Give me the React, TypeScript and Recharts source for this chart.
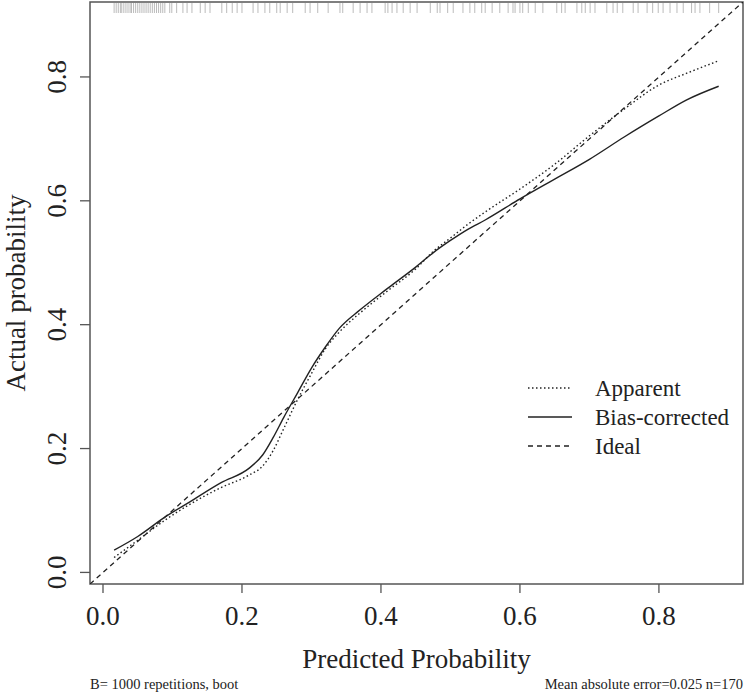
import {
  ComposedChart,
  Line,
  Scatter,
  XAxis,
  YAxis,
  ReferenceArea,
  Label,
} from "recharts";

// axis range (R's 4% padding around the predicted range 0.016..0.886)
const axisRange = [-0.0187, 0.921];
const axisTicks = [0, 0.2, 0.4, 0.6, 0.8];

// predicted probability grid for the calibration curves
const predicted = [
  0.016, 0.05, 0.09, 0.125, 0.17, 0.21, 0.23, 0.245, 0.26, 0.28, 0.3, 0.32, 0.34,
  0.37, 0.41, 0.45, 0.475, 0.5, 0.525, 0.55, 0.6, 0.65, 0.7, 0.75, 0.8, 0.84,
  0.886,
];
const apparent = [
  0.024, 0.052, 0.085, 0.11, 0.137, 0.157, 0.172, 0.197, 0.232, 0.279, 0.321,
  0.361, 0.388, 0.419, 0.455, 0.49, 0.518, 0.54, 0.562, 0.582, 0.619, 0.659,
  0.705, 0.748, 0.787, 0.806, 0.826,
];
const biasCorrected = [
  0.036, 0.058, 0.09, 0.114, 0.145, 0.168, 0.19, 0.218, 0.25, 0.29, 0.33, 0.364,
  0.394, 0.424, 0.459, 0.493, 0.516, 0.536, 0.554, 0.569, 0.603, 0.635, 0.667,
  0.703, 0.737, 0.763, 0.785,
];

// rug of predicted values along the top
const rugValues = [
  0.016, 0.019, 0.022, 0.025, 0.027, 0.03, 0.033, 0.036, 0.039, 0.041, 0.044,
  0.047, 0.05, 0.053, 0.056, 0.059, 0.062, 0.065, 0.068, 0.071, 0.074, 0.077,
  0.08, 0.083, 0.086, 0.089, 0.096, 0.099, 0.106, 0.115, 0.121, 0.128, 0.14,
  0.147, 0.154, 0.171, 0.178, 0.186, 0.193, 0.2, 0.216, 0.223, 0.233, 0.24,
  0.25, 0.255, 0.265, 0.273, 0.291, 0.298, 0.309, 0.324, 0.341, 0.345, 0.36,
  0.37, 0.38, 0.387, 0.406, 0.41, 0.416, 0.423, 0.432, 0.442, 0.452, 0.471,
  0.481, 0.485, 0.496, 0.504, 0.518, 0.528, 0.535, 0.545, 0.55, 0.56, 0.571,
  0.583, 0.59, 0.593, 0.6, 0.604, 0.612, 0.622, 0.633, 0.653, 0.66, 0.665,
  0.682, 0.689, 0.694, 0.701, 0.708, 0.725, 0.734, 0.74, 0.748, 0.763, 0.77,
  0.783, 0.791, 0.799, 0.806, 0.816, 0.826, 0.835, 0.847, 0.852, 0.859, 0.873,
  0.886,
];

const legendItems = [
  { label: "Apparent", dash: "1.5 2.5" },
  { label: "Bias-corrected", dash: undefined },
  { label: "Ideal", dash: "5 4" },
];

const serif = '"Liberation Serif", "Times New Roman", serif';
const ink = "#222";
const frame = "#555";

const apparentData = predicted.map((x, i) => ({ x, y: apparent[i] }));
const biasData = predicted.map((x, i) => ({ x, y: biasCorrected[i] }));
const idealData = axisRange.map((v) => ({ x: v, y: v }));
const rugData = rugValues.map((x) => ({ x, y: axisRange[1] }));

const RugTick = (props: any) => (
  <line
    x1={props.cx}
    x2={props.cx}
    y1={props.cy + 1}
    y2={props.cy + 11}
    stroke="#bbb"
    strokeWidth={1}
  />
);

const XTick = ({ x, y, payload }: any) => (
  <text x={x} y={y + 30} textAnchor="middle" fontFamily={serif} fontSize={27} fill={ink}>
    {payload.value.toFixed(1)}
  </text>
);

const YTick = ({ x, y, payload }: any) => (
  <text
    x={x - 12}
    y={y}
    transform={`rotate(-90 ${x - 12} ${y})`}
    textAnchor="middle"
    fontFamily={serif}
    fontSize={27}
    fill={ink}
  >
    {payload.value.toFixed(1)}
  </text>
);

function CurveLegend() {
  return (
    <svg width={226} height={92} style={{ position: "absolute", left: 520, top: 370 }}>
      {legendItems.map((item, i) => (
        <g key={item.label}>
          <line
            x1={8}
            x2={52}
            y1={18 + i * 29}
            y2={18 + i * 29}
            stroke={ink}
            strokeWidth={1.3}
            strokeDasharray={item.dash}
          />
          <text x={75} y={26 + i * 29} fontFamily={serif} fontSize={23} fill={ink}>
            {item.label}
          </text>
        </g>
      ))}
    </svg>
  );
}

export default function App() {
  return (
    <div style={{ position: "absolute", left: 0, top: 0, width: 746, height: 695, background: "#fff" }}>
      <ComposedChart width={746} height={695} margin={{ top: 2, right: 3, left: 0, bottom: 0 }}>
        <XAxis
          type="number"
          dataKey="x"
          domain={axisRange}
          ticks={axisTicks}
          allowDataOverflow
          axisLine={false}
          tickSize={9}
          tickLine={{ stroke: frame, strokeWidth: 1.3 }}
          tick={<XTick />}
          height={111}
        >
          <Label
            content={() => (
              <text x={416.5} y={668} textAnchor="middle" fontFamily={serif} fontSize={27} fill={ink}>
                Predicted Probability
              </text>
            )}
          />
        </XAxis>
        <YAxis
          type="number"
          dataKey="y"
          domain={axisRange}
          ticks={axisTicks}
          allowDataOverflow
          axisLine={false}
          tickSize={10}
          tickLine={{ stroke: frame, strokeWidth: 1.3 }}
          tick={<YTick />}
          width={90}
        >
          <Label
            content={() => (
              <text
                x={25}
                y={293}
                transform="rotate(-90 25 293)"
                textAnchor="middle"
                fontFamily={serif}
                fontSize={27}
                fill={ink}
              >
                Actual probability
              </text>
            )}
          />
        </YAxis>
        <ReferenceArea
          x1={axisRange[0]}
          x2={axisRange[1]}
          y1={axisRange[0]}
          y2={axisRange[1]}
          fill="none"
          stroke={frame}
          strokeWidth={1.5}
        />
        <Scatter data={rugData} dataKey="y" shape={<RugTick />} isAnimationActive={false} />
        <Line
          data={idealData}
          dataKey="y"
          type="linear"
          stroke={ink}
          strokeWidth={1.3}
          strokeDasharray="5 4"
          dot={false}
          isAnimationActive={false}
        />
        <Line
          data={apparentData}
          dataKey="y"
          type="monotone"
          stroke={ink}
          strokeWidth={1.4}
          strokeDasharray="1.5 2.5"
          dot={false}
          isAnimationActive={false}
        />
        <Line
          data={biasData}
          dataKey="y"
          type="monotone"
          stroke={ink}
          strokeWidth={1.4}
          dot={false}
          isAnimationActive={false}
        />
      </ComposedChart>
      <CurveLegend />
      <div
        style={{ position: "absolute", left: 90, top: 676, fontFamily: serif, fontSize: 14.5, color: ink, whiteSpace: "nowrap" }}
      >
        B= 1000 repetitions, boot
      </div>
      <div
        style={{ position: "absolute", right: 3, top: 676, fontFamily: serif, fontSize: 14.5, color: ink, whiteSpace: "nowrap" }}
      >
        Mean absolute error=0.025 n=170
      </div>
    </div>
  );
}
